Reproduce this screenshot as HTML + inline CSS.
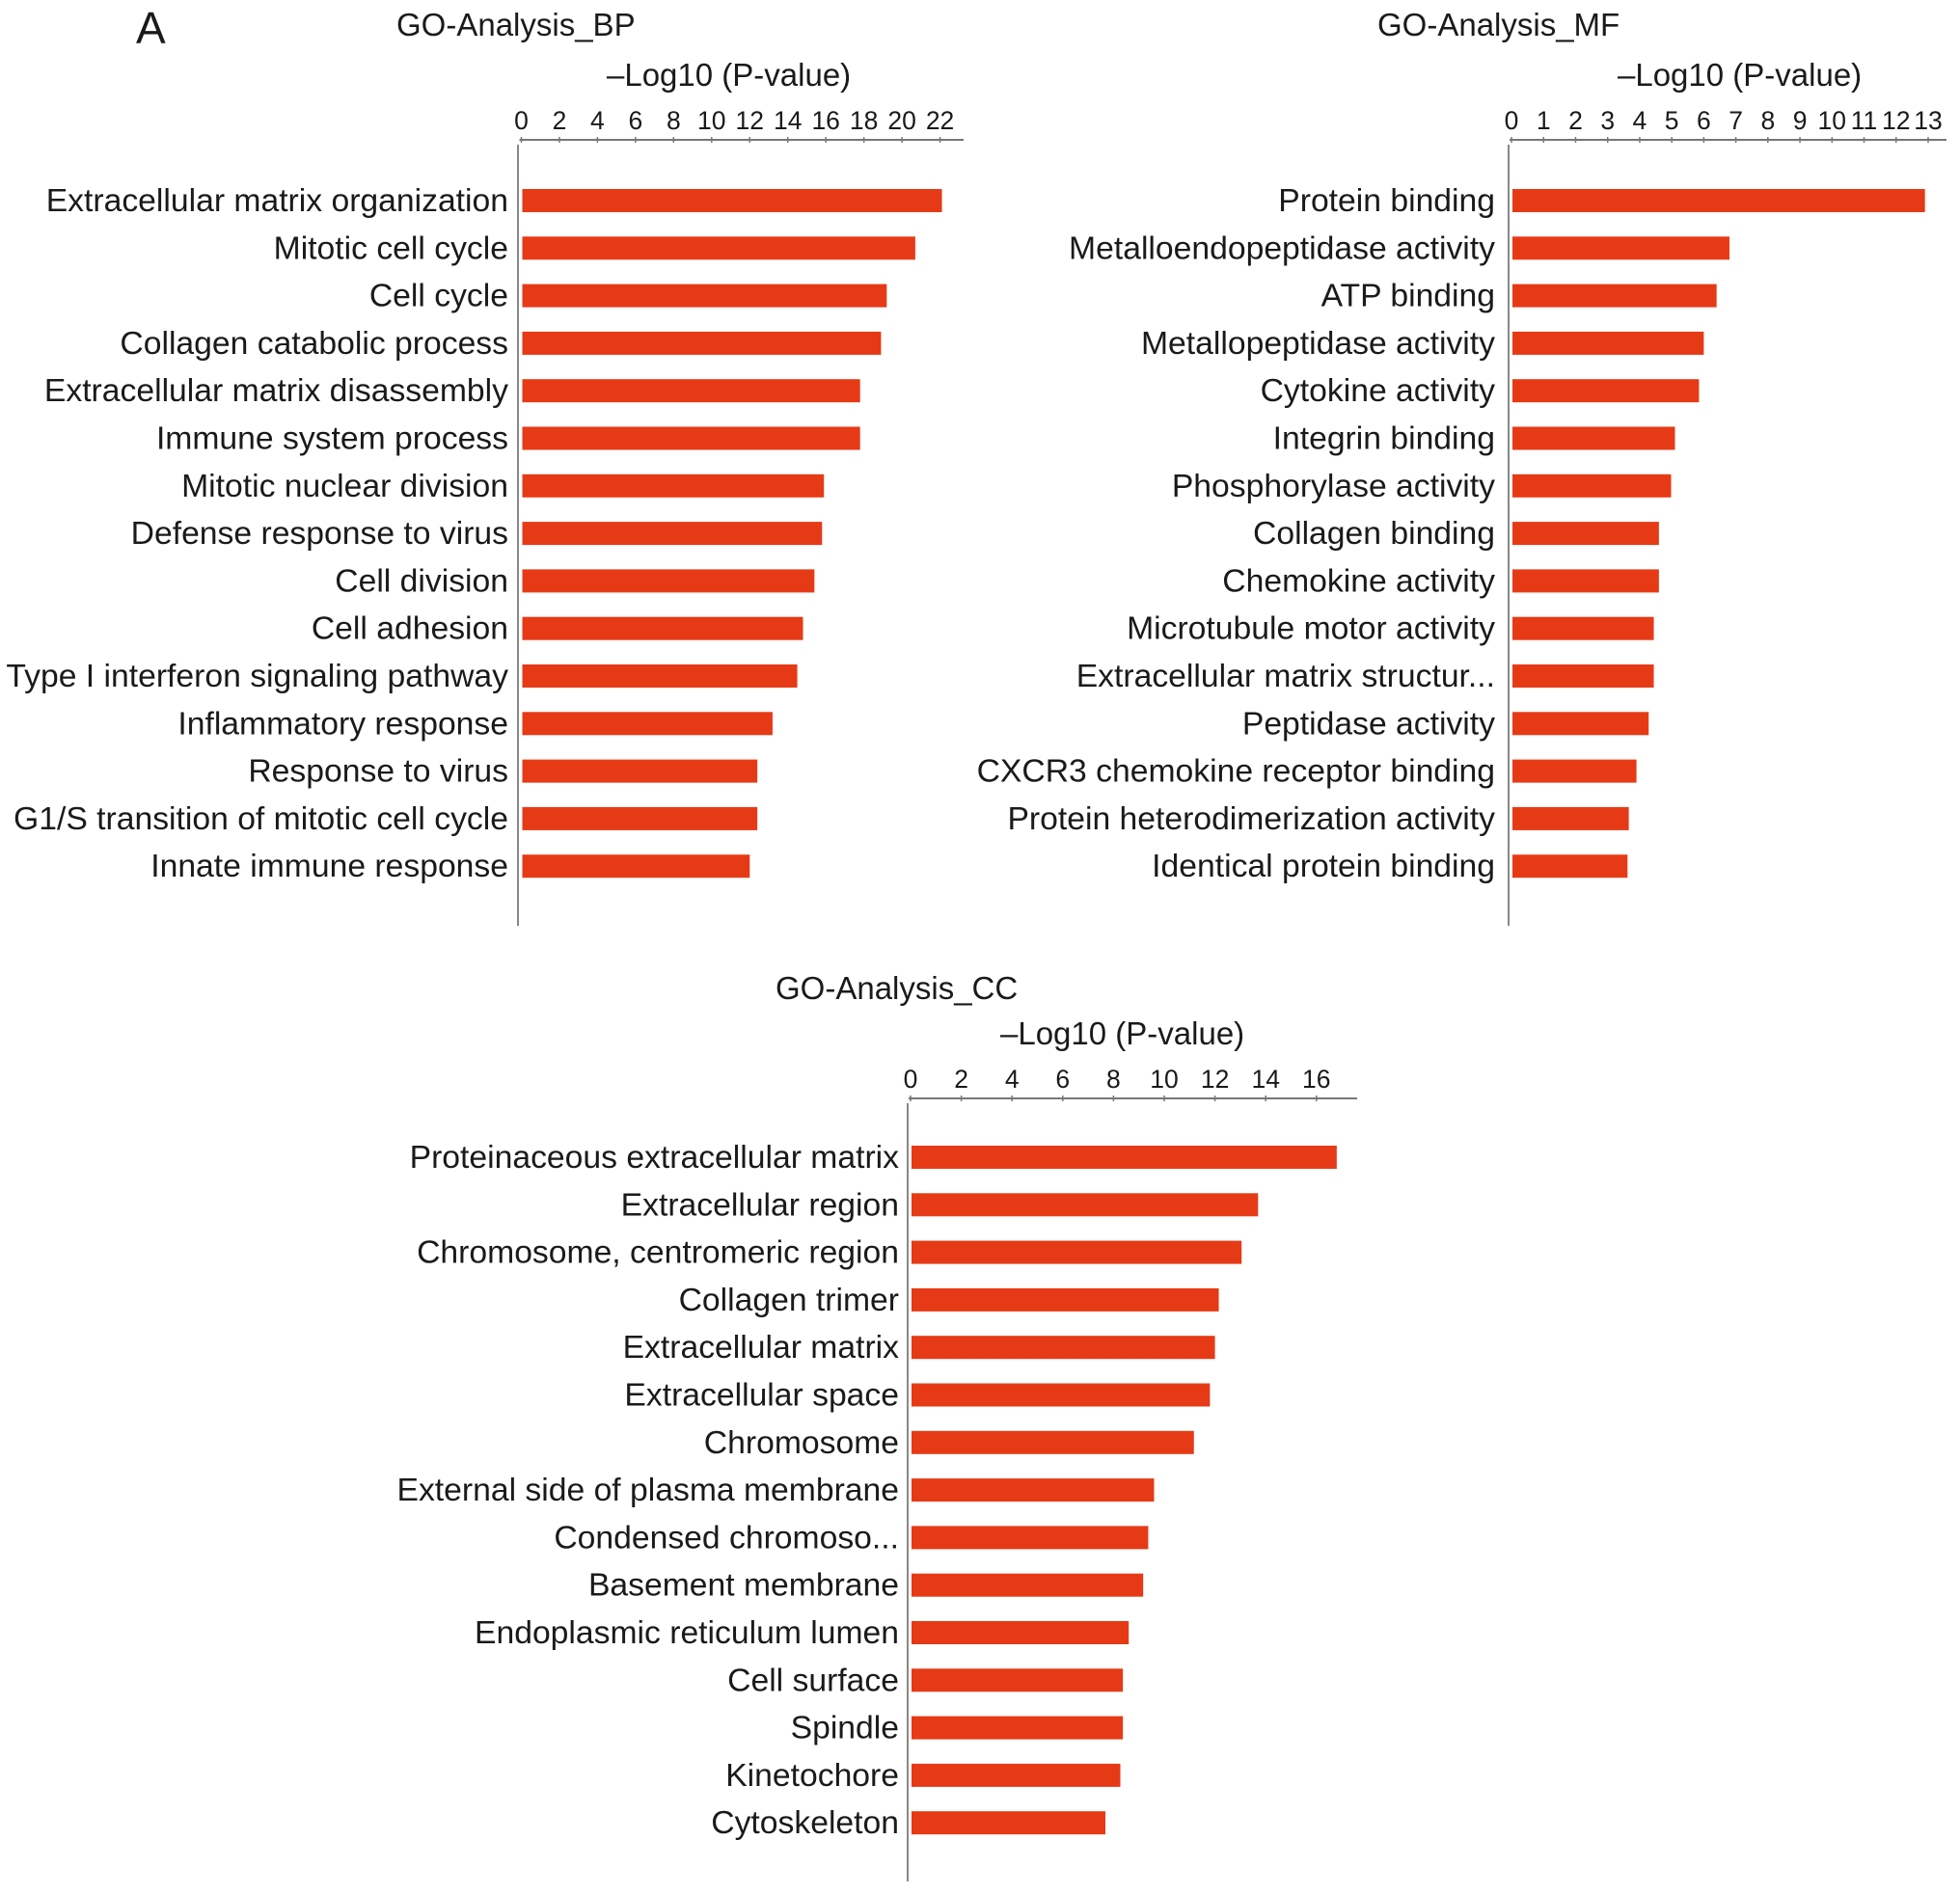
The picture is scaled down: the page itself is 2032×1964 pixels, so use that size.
<!DOCTYPE html>
<html><head><meta charset="utf-8"><style>
html,body{margin:0;padding:0;background:#fff}
svg{display:block}
text{font-family:"Liberation Sans",Arial,sans-serif;fill:#1a1a1a}
</style></head><body>
<svg id="fig" width="2032" height="1964" viewBox="0 0 2032 1964" xmlns="http://www.w3.org/2000/svg">
<text x="141" y="45" font-size="46">A</text>
</svg>
<script>
const bpCategories = ["Extracellular matrix organization","Mitotic cell cycle","Cell cycle","Collagen catabolic process","Extracellular matrix disassembly","Immune system process","Mitotic nuclear division","Defense response to virus","Cell division","Cell adhesion","Type I interferon signaling pathway","Inflammatory response","Response to virus","G1/S transition of mitotic cell cycle","Innate immune response"];
const bpValues = [22.1,20.7,19.2,18.9,17.8,17.8,15.9,15.8,15.4,14.8,14.5,13.2,12.4,12.4,12.0];
const bpTicks = [0,2,4,6,8,10,12,14,16,18,20,22];

const mfCategories = ["Protein binding","Metalloendopeptidase activity","ATP binding","Metallopeptidase activity","Cytokine activity","Integrin binding","Phosphorylase activity","Collagen binding","Chemokine activity","Microtubule motor activity","Extracellular matrix structur...","Peptidase activity","CXCR3 chemokine receptor binding","Protein heterodimerization activity","Identical protein binding"];
const mfValues = [12.9,6.8,6.4,6.0,5.85,5.1,4.98,4.6,4.6,4.44,4.44,4.28,3.9,3.66,3.62];
const mfTicks = [0,1,2,3,4,5,6,7,8,9,10,11,12,13];

const ccCategories = ["Proteinaceous extracellular matrix","Extracellular region","Chromosome, centromeric region","Collagen trimer","Extracellular matrix","Extracellular space","Chromosome","External side of plasma membrane","Condensed chromoso...","Basement membrane","Endoplasmic reticulum lumen","Cell surface","Spindle","Kinetochore","Cytoskeleton"];
const ccValues = [16.8,13.7,13.05,12.15,12.0,11.8,11.17,9.6,9.37,9.17,8.6,8.37,8.37,8.27,7.68];
const ccTicks = [0,2,4,6,8,10,12,14,16];

const NS="http://www.w3.org/2000/svg";
const svg=document.getElementById('fig');
function mk(tag,attrs,parent){const e=document.createElementNS(NS,tag);for(const k in attrs)e.setAttribute(k,attrs[k]);(parent||svg).appendChild(e);return e;}

function panel(id,title,titleX,titleY,cats,vals,ticks,cfg){
  const g=mk('g',{});
  
  
  const x=v=>cfg.x0+(v-ticks[0])*cfg.unit;
  const t=mk('text',{x:titleX,y:titleY,'font-size':33},g);t.textContent=title;
  
  
  const at=mk('text',{x:cfg.logX,y:cfg.axisY-56,'font-size':33},g);at.textContent="\u2013Log10 (P-value)";
  
  
  const ax=mk('line',{x1:cfg.x0-2,y1:cfg.axisY,x2:cfg.axisEnd,y2:cfg.axisY,stroke:'#777','stroke-width':2},g);
  
  
  ticks.forEach(v=>{
    const tk=mk('line',{x1:x(v),y1:cfg.axisY-3,x2:x(v),y2:cfg.axisY+3,stroke:'#777','stroke-width':1.5},g);
    
    
    const tl=mk('text',{x:x(v),y:cfg.axisY-11,'font-size':26.5,'text-anchor':'middle'},g);tl.textContent=v;
    
    
  });
  const va=mk('line',{x1:cfg.vx,y1:cfg.axisY+5,x2:cfg.vx,y2:cfg.vEnd,stroke:'#888','stroke-width':2},g);
  
  
  cats.forEach((c,i)=>{
    const cy=cfg.c0+i*49.3;
    const b=mk('rect',{x:x(0)+1,y:cy-12,width:x(vals[i])-x(0)-1,height:24,fill:'#e63a16'},g);
    
    
    const l=mk('text',{x:cfg.labelX,y:cy+11,'font-size':33.7,'text-anchor':'end'},g);l.textContent=c;
    
    
  });
}
panel('bp','GO-Analysis_BP',411,37,bpCategories,bpValues,bpTicks,{x0:540.5,unit:19.73,axisY:145,axisEnd:999,logX:629,vx:537,vEnd:960,c0:208,labelX:527});
panel('mf','GO-Analysis_MF',1428,37,mfCategories,mfValues,mfTicks,{x0:1567,unit:33.23,axisY:145,axisEnd:2018,logX:1677,vx:1564,vEnd:960,c0:208,labelX:1550});
panel('cc','GO-Analysis_CC',804,1036,ccCategories,ccValues,ccTicks,{x0:944,unit:26.3,axisY:1139,axisEnd:1407,logX:1037,vx:941,vEnd:1951,c0:1200,labelX:932});
</script>
</body></html>
